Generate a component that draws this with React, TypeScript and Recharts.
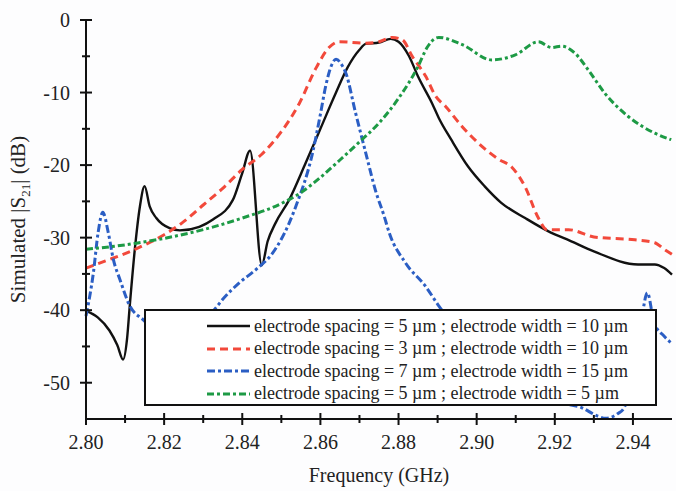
import { LineChart, Line, XAxis, YAxis, Legend } from "recharts";

const FONT = '"Liberation Serif", "Times New Roman", serif';

// frequency (GHz) / |S21| (dB)
const blackFreq = [2.8, 2.803, 2.806, 2.808, 2.8095, 2.8105, 2.8112, 2.8125, 2.8138, 2.815, 2.8163, 2.818, 2.8214, 2.824, 2.829, 2.8325, 2.8376, 2.84, 2.842, 2.845, 2.8465, 2.8485, 2.852, 2.856, 2.86, 2.864, 2.867, 2.87, 2.8716, 2.875, 2.878, 2.88, 2.8827, 2.885, 2.8886, 2.8903, 2.8935, 2.8978, 2.902, 2.9063, 2.9124, 2.919, 2.923, 2.93, 2.9413, 2.9456, 2.948, 2.95];
const blackDb = [-40.1, -41.0, -42.8, -44.8, -46.8, -44.0, -39.4, -31.6, -25.7, -22.9, -25.7, -27.3, -28.7, -29.0, -28.5, -27.5, -24.8, -21.1, -18.0, -33.8, -30.5, -28.0, -24.8, -20.0, -15.0, -10.0, -6.5, -4.1, -3.3, -3.1, -2.6, -3.0, -5.0, -7.8, -11.5, -13.5, -16.5, -20.2, -22.9, -25.2, -27.3, -29.3, -30.2, -31.9, -33.7, -33.7, -34.2, -35.1];

const redFreq = [2.8, 2.805, 2.81, 2.815, 2.82, 2.825, 2.83, 2.835, 2.84, 2.845, 2.85, 2.8546, 2.8589, 2.8622, 2.8648, 2.8716, 2.875, 2.8784, 2.881, 2.8835, 2.887, 2.8895, 2.892, 2.8963, 2.9005, 2.9056, 2.909, 2.9124, 2.9158, 2.918, 2.9235, 2.93, 2.9405, 2.9456, 2.948, 2.95];
const redDb = [-34.2, -33.2, -32.2, -31.0, -29.6, -27.8, -25.5, -23.2, -20.6, -18.5, -15.4, -11.5, -6.6, -3.8, -3.0, -3.2, -3.0, -2.4, -2.75, -5.0, -7.8, -10.5, -11.9, -14.7, -17.0, -19.2, -20.3, -23.0, -27.3, -28.9, -28.9, -29.9, -30.3, -30.7, -31.6, -32.3];

const blueFreq = [2.8, 2.8019, 2.8031, 2.8043, 2.8057, 2.807, 2.8087, 2.8112, 2.8146, 2.82, 2.825, 2.829, 2.8329, 2.835, 2.8393, 2.8435, 2.8478, 2.852, 2.8537, 2.858, 2.86, 2.8614, 2.8628, 2.864, 2.8655, 2.8665, 2.869, 2.8716, 2.8741, 2.8763, 2.8776, 2.8818, 2.8869, 2.8903, 2.895, 2.905, 2.915, 2.922, 2.9267, 2.931, 2.933, 2.936, 2.9378, 2.94, 2.942, 2.9437, 2.9454, 2.948, 2.95];
const blueDb = [-40.8, -34.8, -29.3, -26.5, -29.3, -33.0, -35.8, -39.4, -41.3, -43.5, -43.8, -42.0, -39.9, -38.5, -36.2, -34.4, -32.1, -28.0, -25.7, -18.3, -13.0, -9.0, -6.3, -5.4, -6.2, -7.3, -12.8, -18.3, -23.5, -27.0, -29.3, -33.5, -36.7, -39.4, -42.5, -47.5, -51.0, -52.8, -53.4, -54.6, -54.9, -54.3, -53.4, -48.0, -42.0, -37.6, -41.7, -43.6, -44.6];

const greenFreq = [2.8, 2.81, 2.82, 2.83, 2.84, 2.85, 2.855, 2.86, 2.865, 2.87, 2.875, 2.88, 2.885, 2.8873, 2.8895, 2.8903, 2.8963, 2.9039, 2.9099, 2.9158, 2.9192, 2.9218, 2.9252, 2.9286, 2.9328, 2.9388, 2.9456, 2.9498];
const greenDb = [-31.6, -31.0, -30.1, -28.9, -27.3, -25.3, -23.8, -21.7, -19.3, -16.8, -14.2, -10.8, -6.4, -3.8, -2.5, -2.4, -3.4, -5.5, -4.8, -3.0, -3.8, -3.6, -4.6, -6.9, -10.1, -13.3, -15.6, -16.5];

const xTicks = [2.8, 2.81, 2.82, 2.83, 2.84, 2.85, 2.86, 2.87, 2.88, 2.89, 2.9, 2.91, 2.92, 2.93, 2.94];
const yTicks = [-50, -45, -40, -35, -30, -25, -20, -15, -10, -5, 0];

const toPoints = (f: number[], db: number[]) => f.map((x, i) => ({ x, y: db[i] }));

const SERIES = [
  { name: "electrode spacing = 5 µm ; electrode width = 10 µm", data: toPoints(blackFreq, blackDb), color: "#111111", dash: undefined as string | undefined, width: 2.4 },
  { name: "electrode spacing = 3 µm ; electrode width = 10 µm", data: toPoints(redFreq, redDb), color: "#f2493b", dash: "8 5", width: 3 },
  { name: "electrode spacing = 7 µm ; electrode width = 15 µm", data: toPoints(blueFreq, blueDb), color: "#2b5ec4", dash: "8 3 3 3", width: 3 },
  { name: "electrode spacing = 5 µm ; electrode width = 5 µm", data: toPoints(greenFreq, greenDb), color: "#1d9a45", dash: "7 3 3 3", width: 3 },
];

const TS = 6;
const TM = 10;
const AX = "#111";

const isMajorX = (v: number) => Math.round(v * 100) % 2 === 0;
const isMajorY = (v: number) => Math.round(v) % 10 === 0;

function BottomTick(props: any) {
  const { x, y, payload } = props;
  const ay = y - TS - TM;
  const major = isMajorX(payload.value);
  const len = major ? 6 : 4;
  return (
    <g>
      <line x1={x} x2={x} y1={ay - len} y2={ay + len} stroke={AX} strokeWidth={2} />
      {major && (
        <text x={x} y={y} dy="0.71em" textAnchor="middle" fontSize={20} fontFamily={FONT} fill="#222">
          {payload.value.toFixed(2)}
        </text>
      )}
    </g>
  );
}

function TopTick(props: any) {
  const { x, y, payload } = props;
  const ay = y + TS + TM;
  const len = isMajorX(payload.value) ? 6 : 4;
  return <line x1={x} x2={x} y1={ay - len} y2={ay + len} stroke={AX} strokeWidth={2} />;
}

function LeftTick(props: any) {
  const { x, y, payload } = props;
  const ax = x + TS + TM;
  const major = isMajorY(payload.value);
  const len = major ? 6 : 4;
  return (
    <g>
      <line x1={ax - len} x2={ax + len} y1={y} y2={y} stroke={AX} strokeWidth={2} />
      {major && (
        <text x={x} y={y} dy="0.355em" textAnchor="end" fontSize={20} fontFamily={FONT} fill="#222">
          {String(payload.value)}
        </text>
      )}
    </g>
  );
}

function RightTick(props: any) {
  const { x, y } = props;
  const ax = x - TS - TM;
  return <line x1={ax - 6} x2={ax} y1={y} y2={y} stroke={AX} strokeWidth={2} />;
}

function YLabel(props: any) {
  const vb = props.viewBox;
  const cy = vb && vb.height ? vb.y + vb.height / 2 : 220;
  const x = 25;
  return (
    <text x={x} y={cy} transform={`rotate(-90 ${x} ${cy})`} textAnchor="middle" fontSize={21} fontFamily={FONT} fill="#222">
      Simulated |S
      <tspan dy={5} fontSize={13}>21</tspan>
      <tspan dy={-5}>| (dB)</tspan>
    </text>
  );
}

function LegendBox() {
  return (
    <div
      style={{
        boxSizing: "border-box",
        width: 513,
        height: 97,
        border: `2px solid ${AX}`,
        background: "#fff",
        paddingTop: 4,
        paddingLeft: 61,
        fontFamily: FONT,
        fontSize: 18,
        color: "#222",
      }}
    >
      {SERIES.map((s) => (
        <div key={s.name} style={{ display: "flex", alignItems: "center", height: 22.5, whiteSpace: "nowrap" }}>
          <svg width={43} height={10} style={{ flex: "none" }}>
            <line x1={0} x2={43} y1={5} y2={5} stroke={s.color} strokeWidth={s.width} strokeDasharray={s.dash} />
          </svg>
          <span style={{ marginLeft: 4 }}>{s.name}</span>
        </div>
      ))}
    </div>
  );
}

export default function App() {
  return (
    <div style={{ position: "absolute", left: 0, top: 0, width: 676, height: 491, background: "#fdfdfe" }}>
      <LineChart width={676} height={491} margin={{ top: 20, right: 4, left: 0, bottom: 0 }}>
        <XAxis
          xAxisId="b"
          dataKey="x"
          type="number"
          domain={[2.8, 2.95]}
          ticks={xTicks}
          interval={0}
          height={72}
          tickSize={TS}
          tickMargin={TM}
          tickLine={false}
          tick={<BottomTick />}
          axisLine={{ stroke: AX, strokeWidth: 2 }}
          label={{ value: "Frequency (GHz)", position: "insideBottom", offset: 9, fontSize: 20, fontFamily: FONT, fill: "#222" }}
        />
        <XAxis
          xAxisId="t"
          orientation="top"
          dataKey="x"
          type="number"
          domain={[2.8, 2.95]}
          ticks={xTicks}
          interval={0}
          height={0}
          tickSize={TS}
          tickMargin={TM}
          tickLine={false}
          tick={<TopTick />}
          axisLine={{ stroke: AX, strokeWidth: 2 }}
        />
        <YAxis
          yAxisId="l"
          type="number"
          domain={[-55, 0]}
          allowDataOverflow
          ticks={yTicks}
          interval={0}
          width={86}
          tickSize={TS}
          tickMargin={TM}
          tickLine={false}
          tick={<LeftTick />}
          axisLine={{ stroke: AX, strokeWidth: 2 }}
          label={<YLabel />}
        />
        <YAxis
          yAxisId="r"
          orientation="right"
          type="number"
          domain={[-55, 0]}
          ticks={yTicks}
          interval={0}
          width={0}
          tickSize={TS}
          tickMargin={TM}
          tickLine={false}
          tick={<RightTick />}
          axisLine={{ stroke: AX, strokeWidth: 2 }}
        />
        <Legend
          layout="vertical"
          align="center"
          verticalAlign="middle"
          wrapperStyle={{ left: 144, top: 309, width: 513, height: 97 }}
          content={() => <LegendBox />}
        />
        {SERIES.map((s) => (
          <Line
            key={s.name}
            name={s.name}
            data={s.data}
            dataKey="y"
            xAxisId="b"
            yAxisId="l"
            type="monotone"
            stroke={s.color}
            strokeWidth={s.width}
            strokeDasharray={s.dash}
            dot={false}
            activeDot={false}
            isAnimationActive={false}
          />
        ))}
      </LineChart>
    </div>
  );
}
